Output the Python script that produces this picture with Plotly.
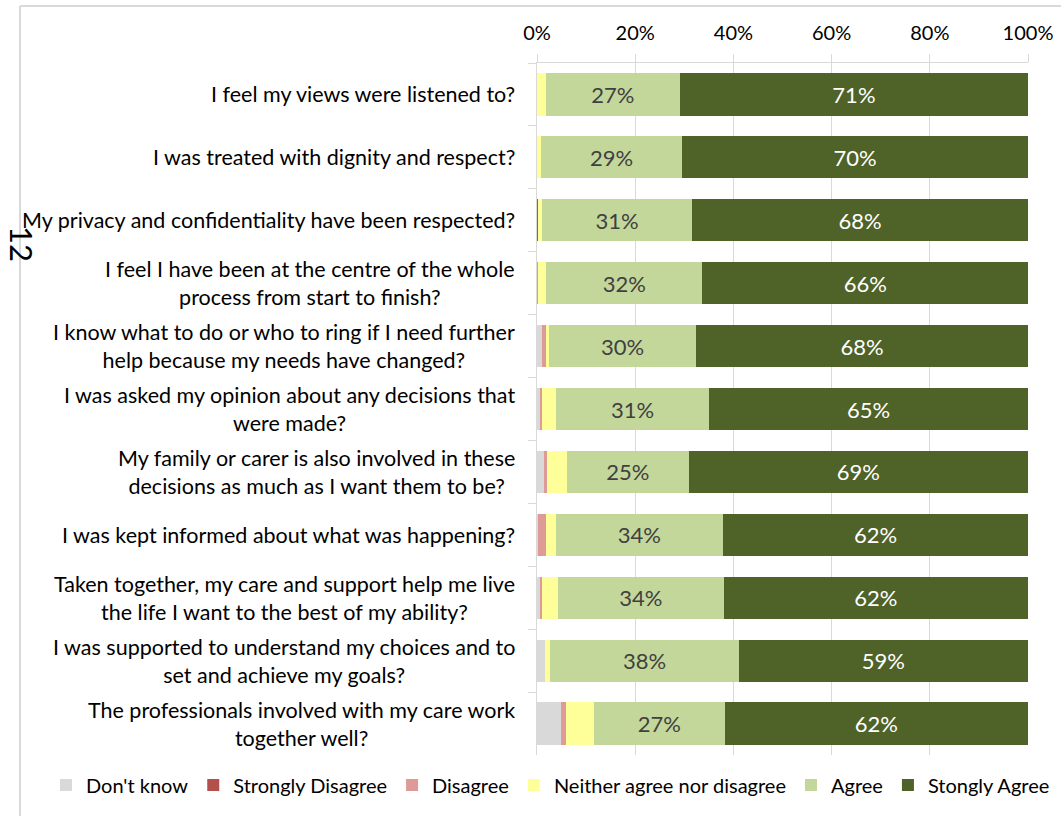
import plotly.graph_objects as go

categories = [
    "I feel my views were listened to?",
    "I was treated with dignity and respect?",
    "My privacy and confidentiality have been respected?",
    "I feel I have been at the centre of the whole<br>process from start to finish?",
    "I know what to do or who to ring if I need further<br>help because my needs have changed?",
    "I was asked my opinion about any decisions that<br>were made?",
    "My family or carer is also involved in these<br>decisions as much as I want them to be?",
    "I was kept informed about what was happening?",
    "Taken together, my care and support help me live<br>the life I want to the best of my ability?",
    "I was supported to understand my choices and to<br>set and achieve my goals?",
    "The professionals involved with my care work<br>together well?",
]

dont_know = [0.0, 0.0, 0.0, 0.0, 1.0, 0.8, 1.6, 0.3, 0.8, 1.6, 4.9]
strongly_disagree = [0.0, 0.0, 0.3, 0.0, 0.0, 0.0, 0.0, 0.0, 0.0, 0.0, 0.0]
disagree = [0.0, 0.0, 0.0, 0.2, 0.8, 0.3, 0.4, 1.5, 0.3, 0.0, 1.1]
neither = [1.8, 0.8, 0.7, 1.7, 0.7, 2.7, 4.1, 2.0, 3.2, 1.1, 5.6]
agree = [27.3, 28.8, 30.6, 31.8, 29.9, 31.3, 24.8, 34.1, 33.7, 38.4, 26.6]
strongly_agree = [70.9, 70.4, 68.4, 66.3, 67.6, 64.9, 69.1, 62.1, 62.0, 58.9, 61.8]

series_names = ["Don't know", "Strongly Disagree", "Disagree",
                "Neither agree nor disagree", "Agree", "Stongly Agree"]
series_values = [dont_know, strongly_disagree, disagree, neither, agree, strongly_agree]
series_colors = ["#D9D9D9", "#B3504C", "#DE9A97", "#FFFF99", "#C4D79B", "#4F6228"]
label_colors = [None, None, None, None, "#404040", "#FFFFFF"]

tick_vals = [0, 20, 40, 60, 80, 100]
tick_text = ["0%", "20%", "40%", "60%", "80%", "100%"]

FONT = "Lato, 'Open Sans', sans-serif"
W, H = 1061, 816
L, R, T, B = 537, 33, 63, 61
PW, PH = W - L - R, H - T - B


def px_x(px):
    return (px - L) / PW


def px_y(py):
    return (H - B - py) / PH


fig = go.Figure()
for name, vals, col, lcol in zip(series_names, series_values, series_colors, label_colors):
    kw = {}
    if lcol:
        kw = dict(texttemplate="%{x:.0f}%", textposition="inside",
                  insidetextanchor="middle", constraintext="none",
                  textfont=dict(color=lcol, size=22, family=FONT))
    fig.add_trace(go.Bar(
        y=categories, x=vals, name=name, orientation="h",
        marker=dict(color=col, line=dict(width=0)),
        hoverinfo="x+name", **kw))

annotations = []
for c in categories:
    annotations.append(dict(
        x=0, xref="paper", y=c, yref="y", text=c, showarrow=False,
        xanchor="right", yanchor="middle", align="center", xshift=-20,
        font=dict(size=21.5, family=FONT, color="#000000")))

annotations.append(dict(
    x=px_x(22), xref="paper", y=px_y(244), yref="paper", text="12",
    textangle=90, showarrow=False, xanchor="center", yanchor="middle",
    font=dict(size=31, family=FONT, color="#000000")))

shapes = [
    dict(type="line", xref="paper", yref="paper", x0=px_x(20), x1=px_x(20),
         y0=px_y(6), y1=px_y(830), line=dict(color="#D9D9D9", width=2), layer="below"),
    dict(type="line", xref="paper", yref="paper", x0=px_x(20), x1=px_x(1075),
         y0=px_y(6), y1=px_y(6), line=dict(color="#D9D9D9", width=2), layer="below"),
]

fig.update_layout(
    width=W, height=H,
    margin=dict(l=L, r=R, t=T, b=B, pad=0, autoexpand=False),
    barmode="stack", bargap=0.33,
    plot_bgcolor="white", paper_bgcolor="white",
    font=dict(family=FONT, size=20, color="#000000"),
    xaxis=dict(side="top", range=[0, 100], tickvals=tick_vals, ticktext=tick_text,
               showgrid=True, gridcolor="#D9D9D9", gridwidth=1,
               showline=True, linecolor="#D9D9D9", linewidth=1,
               ticks="outside", ticklen=8, tickcolor="#D9D9D9",
               ticklabelstandoff=6,
               tickfont=dict(size=20, family=FONT, color="#000000"),
               zeroline=False, fixedrange=True),
    yaxis=dict(autorange="reversed", showticklabels=False,
               showline=True, linecolor="#D9D9D9", linewidth=1,
               ticks="outside", tickson="boundaries", ticklen=8, tickcolor="#D9D9D9",
               showgrid=False, fixedrange=True),
    legend=dict(orientation="h", x=px_x(46), xanchor="left",
                y=px_y(785), yanchor="middle",
                font=dict(size=20, family=FONT, color="#000000"),
                traceorder="normal", itemwidth=30, tracegroupgap=0),
    annotations=annotations,
    shapes=shapes,
    showlegend=True,
)

fig.write_html("out.html")
